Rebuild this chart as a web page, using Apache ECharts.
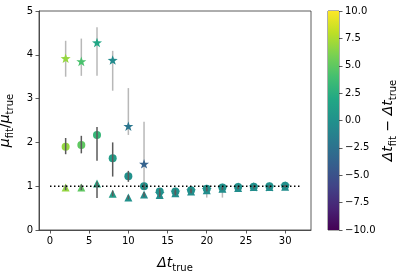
<!DOCTYPE html>
<html><head><meta charset="utf-8">
<script src="https://cdn.jsdelivr.net/npm/echarts@6/dist/echarts.min.js"></script>
<style>html,body{margin:0;padding:0;background:#fff}#c{width:403px;height:274px}</style>
</head><body><div id="c"></div>
<script>
const xs = [2,4,6,8,10,12,14,16,18,20,22,24,26,28,30];
// star series
const starY  = [3.92,3.85,4.28,3.88,2.37,1.51,0.84,0.87,0.90,0.93,0.96,0.98,0.99,0.99,1.01];
const starLo = [3.50,3.52,3.52,3.18,2.17,1.03,0.80,0.83,0.84,0.74,0.74,0.94,0.96,0.96,0.98];
const starHi = [4.32,4.37,4.63,4.09,3.24,2.47,0.88,0.91,0.95,0.98,1.00,1.01,1.02,1.02,1.04];
const starC  = [6.8,4.2,1.8,-0.5,-2.2,-3.8,-0.5,-0.5,-0.5,-0.5,-0.5,-0.5,-0.5,-0.5,-0.5];
// circle series
const circY  = [1.90,1.94,2.17,1.64,1.23,1.00,0.88,0.88,0.91,0.94,0.97,0.98,0.99,1.00,1.01];
const circLo = [1.73,1.75,1.58,1.22,1.10,0.93,0.80,0.82,0.86,0.90,0.93,0.95,0.97,0.97,0.99];
const circHi = [2.10,2.15,2.35,2.00,1.35,1.06,0.94,0.93,0.95,0.98,1.00,1.01,1.02,1.02,1.03];
const circC  = [6.8,5.0,3.2,1.0,0.0,0.0,0.0,0.0,0.0,0.0,0.0,0.0,0.0,0.0,0.0];
// triangle series
const triY   = [0.97,0.97,1.06,0.83,0.74,0.81,0.80,0.84,0.88,0.91,0.94,0.96,0.98,0.98,0.99];
const triLo  = [0.91,0.91,0.73,0.77,0.70,0.76,0.75,0.79,0.84,0.88,0.91,0.93,0.95,0.95,0.97];
const triHi  = [1.03,1.04,1.10,0.90,0.79,0.86,0.86,0.89,0.92,0.94,0.97,0.99,1.00,1.00,1.02];
const triC   = [6.8,5.0,2.0,1.0,0.0,-0.3,-0.3,-0.3,-0.3,-0.3,-0.3,-0.3,-0.3,-0.3,-0.3];
const refLine = [[0,1],[32,1]];
const xTicks = [0,5,10,15,20,25,30];
const cbTicks = [-10,-7.5,-5,-2.5,0,2.5,5,7.5,10];

const viridis = ['#440154','#482475','#414487','#355f8d','#2a788e','#21918c','#22a884','#44bf70','#7ad151','#bddf26','#fde725'];
const FONT = 'DejaVu Sans';
const starPath = 'path://M0,-10 L2.35,-3.24 L9.51,-3.09 L3.8,1.24 L5.88,8.09 L0,4 L-5.88,8.09 L-3.8,1.24 L-9.51,-3.09 L-2.35,-3.24 Z';

function pts(ys, cs){ return xs.map((x,i)=>[x, ys[i], cs[i]]); }
function errs(lo, hi){ return xs.map((x,i)=>[x, lo[i], hi[i]]); }
function errSeries(lo, hi, color, z){
  return {type:'custom', xAxisIndex:0, yAxisIndex:0, z:z, silent:true,
    data: errs(lo,hi),
    renderItem:(params, api)=>{
      const a = api.coord([api.value(0), api.value(1)]);
      const b = api.coord([api.value(0), api.value(2)]);
      return {type:'line', shape:{x1:a[0], y1:a[1], x2:b[0], y2:b[1]},
        style:{stroke:color, lineWidth:1.5}};
    }};
}
const rich = {
  i:{fontFamily:FONT, fontStyle:'italic', fontSize:14, color:'#000', lineHeight:20, verticalAlign:'middle'},
  n:{fontFamily:FONT, fontSize:14, color:'#000', lineHeight:20, verticalAlign:'middle'},
  s:{fontFamily:FONT, fontSize:10, color:'#000', lineHeight:12, verticalAlign:'bottom', padding:[6,0,0,0]}
};
const chart = echarts.init(document.getElementById('c'), null, {renderer:'canvas'});
function cbFmt(v){ const s = Math.abs(v).toFixed(1); return (v<0?'\u2212':'') + s; }
chart.setOption({
  animation:false,
  grid:[
    {left:39, top:11, width:272, height:219, show:true, borderColor:'#333', borderWidth:0.8, containLabel:false, outerBoundsMode:'none'},
    {left:328, top:11, width:11, height:219, show:true, borderColor:'#333', borderWidth:0.8, containLabel:false, outerBoundsMode:'none'}
  ],
  visualMap:{show:false, type:'continuous', min:-10, max:10, dimension:2, seriesIndex:[1,3,5], inRange:{color:viridis}},
  xAxis:[
    {gridIndex:0, type:'value', min:-1.4, max:33.3,
     axisLine:{show:true, onZero:false, lineStyle:{color:'#333', width:0.8}},
     axisTick:{show:true, length:3.5, customValues:xTicks, lineStyle:{color:'#333', width:0.8}},
     axisLabel:{customValues:xTicks, fontFamily:FONT, fontSize:10, color:'#000', margin:6},
     splitLine:{show:false},
     name:'{i|Δt}{s|true}', nameLocation:'middle', nameGap:23, nameTextStyle:{rich:rich}},
    {gridIndex:1, type:'value', min:0, max:1, show:false}
  ],
  yAxis:[
    {gridIndex:0, type:'value', min:0, max:5, interval:1,
     axisLine:{show:true, onZero:false, lineStyle:{color:'#333', width:0.8}},
     axisTick:{show:true, length:3.5, lineStyle:{color:'#333', width:0.8}},
     axisLabel:{fontFamily:FONT, fontSize:10, color:'#000', margin:6},
     splitLine:{show:false},
     name:'{i|μ}{s|fit}{n|/}{i|μ}{s|true}', nameLocation:'middle', nameGap:17, nameRotate:90, nameTextStyle:{rich:rich}},
    {gridIndex:1, type:'value', min:-10, max:10, interval:2.5, position:'right',
     axisLine:{show:false, onZero:false},
     axisTick:{show:true, length:3.5, lineStyle:{color:'#333', width:0.8}},
     axisLabel:{fontFamily:FONT, fontSize:10, color:'#000', margin:6, formatter:cbFmt},
     splitLine:{show:false},
     name:'{i|Δt}{s|fit}{n| − }{i|Δt}{s|true}', nameLocation:'middle', nameGap:39, nameRotate:90, nameTextStyle:{rich:rich}}
  ],
  series:[
    errSeries(starLo, starHi, '#b8b8b8', 1),
    {type:'scatter', xAxisIndex:0, yAxisIndex:0, z:2, symbol:starPath, symbolKeepAspect:true, symbolSize:10, itemStyle:{opacity:1}, data:pts(starY, starC)},
    errSeries(circLo, circHi, '#5a5a5a', 3),
    {type:'scatter', xAxisIndex:0, yAxisIndex:0, z:2, symbol:'circle', symbolSize:8, itemStyle:{opacity:1}, data:pts(circY, circC)},
    errSeries(triLo, triHi, '#5a5a5a', 3),
    {type:'scatter', xAxisIndex:0, yAxisIndex:0, z:2, symbol:'triangle', symbolSize:8, itemStyle:{opacity:1}, data:pts(triY, triC)},
    {type:'line', xAxisIndex:0, yAxisIndex:0, z:5, symbol:'none', silent:true, data:refLine,
     lineStyle:{color:'#000', width:1.5, type:[1.5,2.5]}},
    {type:'custom', xAxisIndex:1, yAxisIndex:1, z:1, silent:true, data:[[0,-10,1,10]],
     renderItem:(params, api)=>{
       const a = api.coord([api.value(0), api.value(3)]);
       const b = api.coord([api.value(2), api.value(1)]);
       const stops = viridis.slice().reverse().map((c,i)=>({offset:i/(viridis.length-1), color:c}));
       return {type:'rect', shape:{x:a[0], y:a[1], width:b[0]-a[0], height:b[1]-a[1]},
         style:{fill:new echarts.graphic.LinearGradient(0,0,0,1,stops)}};
     }}
  ]
});
</script></body></html>
